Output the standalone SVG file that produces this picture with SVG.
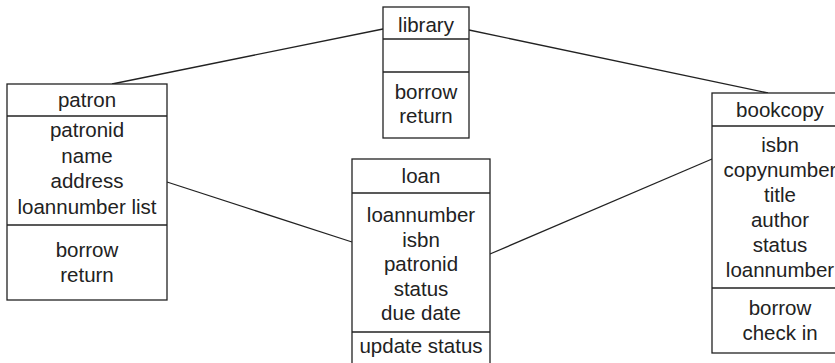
<svg xmlns="http://www.w3.org/2000/svg" width="835" height="363" viewBox="0 0 835 363">
<style>
.box{fill:#fff;stroke:#222;stroke-width:1.3}
.div{stroke:#222;stroke-width:1.3}
.con{stroke:#222;stroke-width:1.3;fill:none}
text{font-family:"Liberation Sans",Arial,sans-serif;font-size:20.5px;fill:#222;text-anchor:middle}
</style>
<g id="connectors">
<line class="con" x1="112" y1="84" x2="383" y2="29"/>
<line class="con" x1="469" y1="30" x2="768" y2="93"/>
<line class="con" x1="167" y1="182" x2="352" y2="242"/>
<line class="con" x1="490" y1="254" x2="712" y2="159"/>
</g>
<g id="library">
<rect class="box" x="383" y="7" width="86" height="131"/>
<line class="div" x1="383" y1="39" x2="469" y2="39"/>
<line class="div" x1="383" y1="72" x2="469" y2="72"/>
<text x="426" y="32">library</text>
<text x="426" y="99">borrow</text>
<text x="426" y="123">return</text>
</g>
<g id="patron">
<rect class="box" x="7" y="84" width="160" height="216"/>
<line class="div" x1="7" y1="116" x2="167" y2="116"/>
<line class="div" x1="7" y1="225" x2="167" y2="225"/>
<text x="87" y="107">patron</text>
<text x="87" y="137">patronid</text>
<text x="87" y="162.5">name</text>
<text x="87" y="188">address</text>
<text x="87" y="213.5">loannumber list</text>
<text x="87" y="257">borrow</text>
<text x="87" y="282">return</text>
</g>
<g id="loan">
<rect class="box" x="352" y="159" width="138" height="214"/>
<line class="div" x1="352" y1="193" x2="490" y2="193"/>
<line class="div" x1="352" y1="332" x2="490" y2="332"/>
<text x="421" y="183">loan</text>
<text x="421" y="222">loannumber</text>
<text x="421" y="246.5">isbn</text>
<text x="421" y="271">patronid</text>
<text x="421" y="295.5">status</text>
<text x="421" y="320">due date</text>
<text x="421" y="353">update status</text>
</g>
<g id="bookcopy">
<rect class="box" x="712" y="93" width="136" height="260"/>
<line class="div" x1="712" y1="126" x2="848" y2="126"/>
<line class="div" x1="712" y1="288" x2="848" y2="288"/>
<text x="780" y="117">bookcopy</text>
<text x="780" y="152">isbn</text>
<text x="780" y="177">copynumber</text>
<text x="780" y="202">title</text>
<text x="780" y="227">author</text>
<text x="780" y="252">status</text>
<text x="780" y="277">loannumber</text>
<text x="780" y="315">borrow</text>
<text x="780" y="340">check in</text>
</g>
</svg>
